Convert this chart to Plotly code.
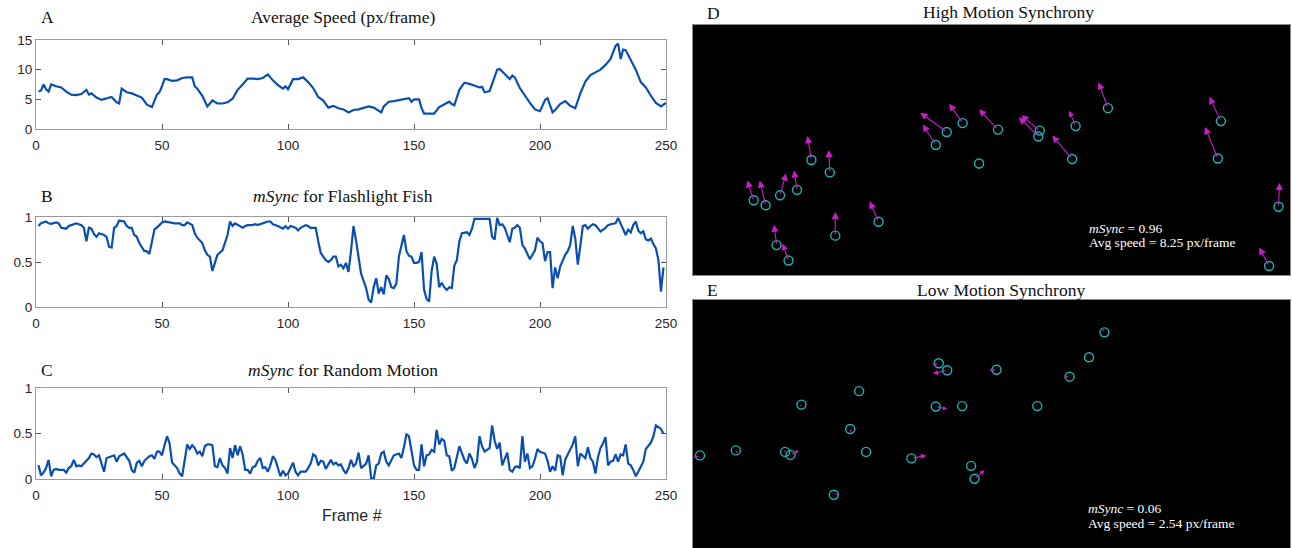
import math
import plotly.graph_objects as go

W, H = 1292, 548

# ---------------- data ----------------
frame_ticks = [0, 50, 100, 150, 200, 250]
speed_ticks = [0, 5, 10, 15]
sync_ticks = [0, 0.5, 1]
sync_tick_labels = ["0", "0.5", "1"]

# (frame, average speed px/frame)
speed_points = [
    (1, 6.3), (2, 6.5), (3, 7.5), (4, 6.7), (5, 6.3), (6, 7.5), (8, 7.2), (10, 7.0), (12, 6.3),
    (14, 5.8), (16, 5.7), (18, 5.9), (20, 6.6), (21, 5.8), (22, 6.0), (24, 5.3), (26, 4.9),
    (28, 5.2), (30, 5.4), (32, 4.5), (33, 4.3), (34, 6.8), (36, 6.2), (38, 6.0), (40, 5.6),
    (42, 5.3), (44, 4.1), (46, 3.7), (48, 5.8), (49, 6.2), (50, 7.2), (51, 8.4), (52, 8.4),
    (54, 8.1), (56, 8.2), (58, 8.6), (60, 8.7), (62, 8.7), (63, 7.2), (64, 6.8), (66, 5.6),
    (68, 3.8), (70, 4.8), (72, 4.3), (74, 4.3), (76, 4.5), (78, 5.1), (80, 6.6), (82, 7.5),
    (84, 8.5), (86, 8.5), (88, 8.4), (90, 8.6), (92, 9.2), (94, 8.2), (96, 7.4), (98, 6.8),
    (99, 7.2), (100, 6.7), (102, 8.4), (104, 8.4), (106, 8.7), (108, 7.9), (110, 6.9),
    (112, 5.4), (114, 4.8), (116, 3.6), (118, 3.9), (120, 3.5), (122, 3.3), (124, 2.8),
    (126, 3.2), (128, 3.3), (130, 3.5), (132, 3.8), (134, 3.6), (136, 3.1), (137, 2.8),
    (138, 3.8), (140, 4.6), (142, 4.7), (144, 4.9), (146, 5.1), (148, 5.2), (149, 4.6),
    (150, 5.0), (152, 5.0), (153, 3.5), (154, 2.6), (156, 2.6), (158, 2.6), (160, 3.7),
    (162, 4.1), (164, 4.6), (165, 4.2), (166, 4.0), (168, 6.6), (170, 7.8), (172, 7.6),
    (174, 7.3), (176, 7.0), (177, 7.1), (178, 6.2), (180, 6.4), (182, 8.6), (183, 10.0),
    (184, 10.1), (186, 9.2), (188, 8.4), (189, 9.0), (190, 8.7), (192, 6.9), (194, 5.6),
    (196, 4.4), (198, 3.3), (200, 3.0), (202, 4.9), (203, 5.2), (205, 2.8), (206, 3.2),
    (208, 4.2), (210, 4.7), (212, 3.9), (214, 3.5), (216, 6.0), (218, 8.0), (220, 9.1),
    (222, 9.6), (224, 10.0), (226, 10.8), (228, 11.8), (230, 14.0), (231, 14.4), (232, 11.8),
    (233, 13.4), (234, 13.3), (236, 11.6), (238, 10.0), (240, 7.9), (242, 7.0), (244, 5.6),
    (246, 4.4), (248, 3.8), (250, 4.4),
]

# (frame, mSync) for flashlight fish
sync_fish_points = [
    (1, 0.90), (2, 0.93), (4, 0.95), (5, 0.93), (6, 0.925), (8, 0.94), (9, 0.93), (10, 0.88),
    (12, 0.87), (13, 0.90), (14, 0.91), (16, 0.93), (18, 0.91), (19, 0.88), (20, 0.73),
    (21, 0.88), (22, 0.87), (23, 0.81), (24, 0.78), (25, 0.82), (27, 0.80), (28, 0.78),
    (29, 0.67), (30, 0.66), (31, 0.88), (32, 0.90), (33, 0.96), (35, 0.95), (36, 0.90),
    (37, 0.88), (38, 0.88), (39, 0.80), (40, 0.78), (41, 0.71), (43, 0.62), (44, 0.62),
    (45, 0.59), (46, 0.71), (47, 0.86), (49, 0.91), (50, 0.94), (51, 0.95), (53, 0.94),
    (54, 0.94), (55, 0.93), (57, 0.93), (58, 0.91), (59, 0.91), (60, 0.94), (62, 0.91),
    (63, 0.82), (64, 0.77), (66, 0.71), (67, 0.63), (68, 0.58), (69, 0.56), (70, 0.40),
    (71, 0.49), (72, 0.58), (74, 0.63), (75, 0.71), (76, 0.80), (77, 0.95), (78, 0.90),
    (79, 0.93), (80, 0.91), (82, 0.88), (83, 0.90), (84, 0.91), (86, 0.91), (87, 0.92),
    (88, 0.91), (90, 0.93), (91, 0.94), (92, 0.95), (93, 0.95), (94, 0.92), (96, 0.90),
    (97, 0.88), (98, 0.87), (99, 0.90), (100, 0.87), (101, 0.90), (103, 0.88), (104, 0.85),
    (105, 0.88), (107, 0.91), (108, 0.90), (109, 0.88), (111, 0.88), (112, 0.73), (113, 0.60),
    (115, 0.52), (116, 0.50), (117, 0.52), (118, 0.56), (119, 0.56), (120, 0.45), (121, 0.47),
    (122, 0.43), (123, 0.49), (124, 0.39), (125, 0.62), (126, 0.90), (127, 0.74), (128, 0.55),
    (129, 0.37), (130, 0.29), (131, 0.21), (132, 0.08), (133, 0.05), (134, 0.22), (135, 0.32),
    (136, 0.15), (137, 0.22), (138, 0.14), (139, 0.35), (140, 0.31), (141, 0.22), (142, 0.21),
    (143, 0.26), (144, 0.56), (145, 0.68), (146, 0.80), (147, 0.62), (148, 0.57), (149, 0.56),
    (150, 0.49), (151, 0.49), (152, 0.50), (153, 0.61), (154, 0.19), (155, 0.09), (156, 0.06),
    (157, 0.40), (158, 0.56), (159, 0.48), (160, 0.22), (161, 0.27), (162, 0.22), (163, 0.19),
    (164, 0.22), (165, 0.21), (166, 0.46), (167, 0.52), (168, 0.73), (169, 0.82), (171, 0.83),
    (172, 0.80), (173, 0.87), (174, 0.98), (176, 0.98), (178, 0.98), (180, 0.98), (181, 0.78),
    (182, 0.75), (183, 0.99), (184, 0.91), (185, 0.92), (186, 0.88), (187, 0.80), (188, 0.72),
    (189, 0.87), (190, 0.88), (191, 0.91), (192, 0.88), (193, 0.69), (194, 0.65), (196, 0.53),
    (197, 0.58), (198, 0.63), (199, 0.77), (200, 0.73), (201, 0.71), (202, 0.51), (203, 0.61),
    (204, 0.61), (205, 0.21), (206, 0.44), (207, 0.32), (208, 0.45), (210, 0.58), (211, 0.62),
    (212, 0.69), (213, 0.90), (214, 0.76), (215, 0.47), (216, 0.68), (217, 0.90), (218, 0.91),
    (219, 0.87), (220, 0.90), (221, 0.92), (222, 0.91), (223, 0.88), (224, 0.84), (226, 0.88),
    (227, 0.91), (228, 0.92), (230, 0.93), (231, 0.99), (232, 0.92), (233, 0.85), (234, 0.80),
    (235, 0.86), (236, 0.83), (237, 0.91), (238, 0.95), (239, 0.85), (240, 0.82), (241, 0.84),
    (242, 0.75), (243, 0.74), (244, 0.76), (245, 0.70), (246, 0.65), (247, 0.52), (248, 0.17),
    (249, 0.44),
]

# (frame, mSync) for random motion
sync_random_points = [
    (1, 0.15), (2, 0.04), (3, 0.07), (4, 0.12), (5, 0.21), (6, 0.03), (7, 0.10), (8, 0.11),
    (9, 0.10), (11, 0.10), (12, 0.07), (13, 0.12), (14, 0.14), (15, 0.21), (16, 0.14),
    (17, 0.15), (18, 0.14), (20, 0.20), (21, 0.23), (22, 0.28), (23, 0.27), (24, 0.24),
    (25, 0.26), (27, 0.08), (28, 0.23), (29, 0.24), (31, 0.26), (32, 0.19), (33, 0.25),
    (35, 0.28), (37, 0.20), (38, 0.10), (39, 0.07), (40, 0.18), (41, 0.20), (42, 0.14),
    (43, 0.20), (45, 0.25), (46, 0.26), (47, 0.22), (48, 0.30), (49, 0.30), (50, 0.26),
    (51, 0.37), (52, 0.47), (53, 0.39), (54, 0.18), (56, 0.12), (57, 0.06), (58, 0.03),
    (59, 0.19), (60, 0.38), (61, 0.33), (62, 0.37), (63, 0.34), (64, 0.28), (65, 0.30),
    (66, 0.25), (67, 0.36), (68, 0.38), (69, 0.38), (70, 0.37), (71, 0.14), (72, 0.13),
    (73, 0.23), (74, 0.15), (75, 0.12), (76, 0.06), (77, 0.34), (78, 0.23), (79, 0.37),
    (80, 0.26), (81, 0.36), (82, 0.27), (83, 0.10), (84, 0.10), (85, 0.06), (86, 0.13),
    (87, 0.14), (88, 0.20), (89, 0.23), (90, 0.12), (91, 0.13), (92, 0.08), (93, 0.15),
    (94, 0.25), (95, 0.21), (96, 0.12), (97, 0.03), (98, 0.09), (99, 0.04), (100, 0.06),
    (101, 0.12), (102, 0.18), (103, 0.08), (104, 0.04), (105, 0.08), (107, 0.08), (108, 0.12),
    (109, 0.17), (110, 0.27), (111, 0.25), (112, 0.15), (113, 0.20), (114, 0.19), (115, 0.11),
    (117, 0.21), (118, 0.16), (119, 0.18), (120, 0.15), (121, 0.16), (122, 0.10), (123, 0.06),
    (124, 0.12), (125, 0.21), (126, 0.14), (127, 0.17), (128, 0.29), (129, 0.12), (130, 0.15),
    (131, 0.17), (132, 0.26), (133, 0.01), (134, 0.00), (135, 0.15), (136, 0.17), (137, 0.28),
    (138, 0.30), (139, 0.19), (140, 0.15), (141, 0.21), (142, 0.26), (144, 0.28), (145, 0.23),
    (146, 0.35), (147, 0.49), (148, 0.47), (149, 0.30), (150, 0.15), (151, 0.10), (152, 0.10),
    (153, 0.38), (154, 0.14), (155, 0.26), (156, 0.27), (157, 0.32), (158, 0.30), (159, 0.54),
    (160, 0.38), (161, 0.44), (162, 0.42), (163, 0.26), (164, 0.25), (165, 0.09), (166, 0.12),
    (168, 0.36), (169, 0.28), (170, 0.21), (171, 0.17), (172, 0.28), (173, 0.22), (174, 0.12),
    (175, 0.19), (176, 0.47), (177, 0.36), (178, 0.30), (180, 0.34), (181, 0.59), (182, 0.42),
    (183, 0.33), (184, 0.40), (185, 0.15), (186, 0.22), (187, 0.29), (188, 0.10), (189, 0.08),
    (190, 0.13), (191, 0.14), (192, 0.12), (193, 0.47), (194, 0.19), (195, 0.28), (196, 0.12),
    (197, 0.14), (198, 0.22), (199, 0.33), (200, 0.30), (202, 0.28), (203, 0.20), (204, 0.08),
    (205, 0.14), (206, 0.09), (207, 0.26), (208, 0.25), (209, 0.04), (210, 0.21), (211, 0.27),
    (212, 0.32), (213, 0.38), (214, 0.47), (215, 0.14), (216, 0.28), (217, 0.25), (218, 0.23),
    (219, 0.35), (220, 0.23), (221, 0.19), (222, 0.06), (223, 0.24), (224, 0.34), (225, 0.39),
    (226, 0.46), (227, 0.15), (228, 0.19), (229, 0.20), (230, 0.27), (231, 0.19), (232, 0.27),
    (233, 0.26), (234, 0.38), (235, 0.17), (236, 0.15), (237, 0.10), (238, 0.03), (239, 0.08),
    (240, 0.14), (241, 0.19), (242, 0.33), (243, 0.37), (244, 0.40), (245, 0.47), (246, 0.59),
    (247, 0.57), (248, 0.55), (249, 0.50),
]

# Video frame (pixel coords, y down): fish positions and motion vectors
frame_width, frame_height = 1200, 502
high_x = [122, 146, 175, 209, 238, 275, 168, 192, 286, 373, 488, 510, 542, 575, 613, 697,
          694, 769, 762, 834, 1061, 1055, 1177, 1158]
high_y = [352, 362, 342, 331, 271, 296, 442, 473, 423, 395, 241, 215, 197, 278, 210, 212,
          224, 203, 269, 167, 193, 268, 365, 484]
high_u = [-13, -12, 12, -6, -8, -2, -5, -12, 0, -18, -26, -53, -27, 0, -38, -37,
          -39, -13, -40, -19, -23, -26, 2, -20]
high_v = [-40, -50, -44, -39, -48, -45, -41, -34, -48, -41, -41, -39, -39, 0, -41, -31,
          -39, -31, -47, -52, -49, -63, -48, -37]

low_x = [827, 796, 494, 511, 610, 757, 334, 218, 488, 541, 692, 316, 14, 86, 185, 196,
         348, 439, 559, 566, 283]
low_y = [65, 115, 127, 141, 140, 154, 183, 210, 214, 213, 213, 259, 312, 302, 305, 311,
         305, 318, 333, 359, 391]
low_u = [-4, 1, -13, -29, -14, -10, 2, -2, 23, 1, 0, 2, -13, 3, 1, 16, 1, 30, 0, 20, 10]
low_v = [-6, -1, 3, 7, 1, 0, 1, 4, 5, 1, 0, 6, 5, 5, 1, -9, 0, -6, 1, -17, -2]

high_sync, high_speed = 0.96, 8.25
low_sync, low_speed = 0.06, 2.54

# ---------------- styling ----------------
LINE = "#0A4FB0"
CYAN = "#1FB3B3"
MAGENTA = "#C81EC8"
SANS = "Liberation Sans, Arial, sans-serif"
SERIF = "Liberation Serif, Times New Roman, serif"


def px_x(p):
    return p / W


def px_y(p):
    return 1 - p / H


fig = go.Figure()


def unzip(points):
    return [p[0] for p in points], [p[1] for p in points]


line_sets = [(speed_points, "x", "y"), (sync_fish_points, "x2", "y2"), (sync_random_points, "x3", "y3")]
for pts, xa, ya in line_sets:
    fx, fv = unzip(pts)
    fig.add_trace(go.Scatter(x=fx, y=fv, mode="lines", line=dict(color=LINE, width=2.2),
                             xaxis=xa, yaxis=ya, showlegend=False, hoverinfo="skip"))

for xs, ys, xa, ya in [(high_x, high_y, "x4", "y4"), (low_x, low_y, "x5", "y5")]:
    fig.add_trace(go.Scatter(x=xs, y=ys, mode="markers", xaxis=xa, yaxis=ya, showlegend=False,
                             hoverinfo="skip",
                             marker=dict(symbol="circle-open", size=9, color=CYAN,
                                         line=dict(width=1.4, color=CYAN))))

# screen pixels per frame pixel in the image panels
img_scale = (1290 - 693) / frame_width

annotations = []
for xs, ys, us, vs, xa, ya in [(high_x, high_y, high_u, high_v, "x4", "y4"),
                               (low_x, low_y, low_u, low_v, "x5", "y5")]:
    for x0, y0, u, v in zip(xs, ys, us, vs):
        if u == 0 and v == 0:
            continue
        screen_len = math.hypot(u, v) * img_scale
        head = max(0.35, min(1.3, 1.3 * screen_len / 20))
        annotations.append(dict(x=x0 + u, y=y0 + v, ax=x0, ay=y0, xref=xa, yref=ya,
                                axref=xa, ayref=ya, showarrow=True, text="",
                                arrowhead=2, arrowsize=head, arrowwidth=1.1,
                                arrowcolor=MAGENTA))

# domains in pixel space
left_x = [36, 666]
rows = {"A": (40, 129), "B": (217, 307), "C": (388, 479)}
right_x = [693, 1290]
d_rows = (25, 275)
e_rows = (300, 548)

tick_font = dict(family=SANS, size=13.5, color="#262626")
common_x = dict(range=[0, 250], tickvals=frame_ticks, ticks="inside", ticklen=5,
                tickcolor="#555555", showline=True, linecolor="#9a9a9a", linewidth=1,
                mirror="ticks", showgrid=False, zeroline=False, tickfont=tick_font,
                ticklabelstandoff=4, automargin=False,
                domain=[px_x(left_x[0]), px_x(left_x[1])])
common_y = dict(ticks="inside", ticklen=5, tickcolor="#555555", showline=True,
                linecolor="#9a9a9a", linewidth=1, mirror="ticks", showgrid=False,
                zeroline=False, tickfont=tick_font, automargin=False)

layout_axes = {}
for i, key in enumerate(["A", "B", "C"], start=1):
    top, bot = rows[key]
    sx = "" if i == 1 else str(i)
    layout_axes["xaxis" + sx] = dict(common_x, anchor="y" + sx)
    yd = dict(common_y, anchor="x" + sx, domain=[px_y(bot), px_y(top)])
    if key == "A":
        yd.update(range=[0, 15], tickvals=speed_ticks)
    else:
        yd.update(range=[0, 1], tickvals=sync_ticks, ticktext=sync_tick_labels)
    layout_axes["yaxis" + sx] = yd

img_axis = dict(showline=True, linecolor="#8a8a8a", linewidth=1, mirror=True, ticks="",
                showticklabels=False, showgrid=False, zeroline=False, automargin=False)
layout_axes["xaxis4"] = dict(img_axis, anchor="y4", range=[0, frame_width],
                             domain=[px_x(right_x[0]), px_x(right_x[1])])
layout_axes["yaxis4"] = dict(img_axis, anchor="x4", range=[frame_height, 0],
                             domain=[px_y(d_rows[1]), px_y(d_rows[0])])
e_visible = frame_height * (e_rows[1] - e_rows[0]) / (d_rows[1] - d_rows[0])
layout_axes["xaxis5"] = dict(img_axis, anchor="y5", range=[0, frame_width],
                             domain=[px_x(right_x[0]), px_x(right_x[1])])
layout_axes["yaxis5"] = dict(img_axis, anchor="x5", range=[e_visible, 0],
                             domain=[0, px_y(e_rows[0])])

shapes = [dict(type="rect", xref=f"x{n} domain", yref=f"y{n} domain", x0=0, x1=1, y0=0, y1=1,
               fillcolor="black", line=dict(width=0), layer="below") for n in (4, 5)]


def text_ann(txt, xp, yp, size=17.5, family=SERIF, xanchor="center", color="#111111"):
    return dict(text=txt, x=px_x(xp), y=px_y(yp), xref="paper", yref="paper",
                showarrow=False, xanchor=xanchor, yanchor="middle",
                font=dict(family=family, size=size, color=color))


annotations += [
    text_ann("Average Speed (px/frame)", 343, 17),
    text_ann("A", 39, 17, xanchor="left"),
    text_ann("<i>mSync</i> for Flashlight Fish", 343, 196),
    text_ann("B", 39, 196, xanchor="left"),
    text_ann("<i>mSync</i> for Random Motion", 343, 370),
    text_ann("C", 39, 370, xanchor="left"),
    text_ann("Frame #", 352, 515, size=16, family=SANS, color="#262626"),
    text_ann("High Motion Synchrony", 1008, 12),
    text_ann("D", 705, 13, xanchor="left"),
    text_ann("Low Motion Synchrony", 1001, 290),
    text_ann("E", 705, 290, xanchor="left"),
    text_ann(f"<i>mSync</i> = {high_sync:.2f}", 1087, 228, size=13.5, xanchor="left", color="white"),
    text_ann(f"Avg speed = {high_speed:.2f} px/frame", 1087, 243, size=13.5, xanchor="left", color="white"),
    text_ann(f"<i>mSync</i> = {low_sync:.2f}", 1086, 508, size=13.5, xanchor="left", color="white"),
    text_ann(f"Avg speed = {low_speed:.2f} px/frame", 1086, 523, size=13.5, xanchor="left", color="white"),
]

fig.update_layout(width=W, height=H, autosize=False, template="none",
                  margin=dict(l=0, r=0, t=0, b=0, pad=0), paper_bgcolor="white",
                  plot_bgcolor="white", showlegend=False, hovermode=False,
                  annotations=annotations, shapes=shapes, **layout_axes)

fig.write_html("out.html", config={"displayModeBar": False, "staticPlot": True},
               post_script="document.body.style.margin='0';document.body.style.overflow='hidden';")
